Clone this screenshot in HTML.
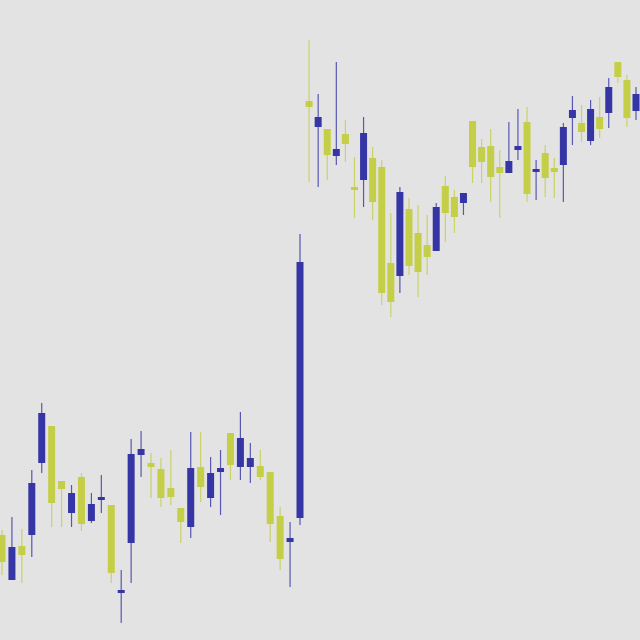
<!DOCTYPE html>
<html><head><meta charset="utf-8"><style>
html,body{margin:0;padding:0;background:#e3e3e3;}
svg{display:block;}
</style></head><body>
<svg id="chart" width="640" height="640" viewBox="0 0 640 640">
<rect x="0" y="0" width="640" height="640" fill="#e3e3e3"/>
<g id="candles"></g>
</svg>
<script>
const opens=[105,60,94,105,177,214,159,127,163,119,141,135,47,97,185,177,171,152,132,113,173,142,168,207,173,173,174,168,124,98,122,539,513,511,484,506,453,460,482,473,377,364,431,407,395,389,454,443,437,519,493,494,473,467,490,518,468,487,472,475,522,517,499,523,527,578,560,529];
const highs=[110,123,111,170,237,214,159,155,167,147,165,135,70,201,209,187,182,190,132,208,208,183,190,207,228,197,190,168,133,118,406,600,546,511,578,520,483,523,493,480,427,453,442,435,425,437,464,450,447,519,501,511,490,518,531,533,480,495,482,517,544,535,540,543,562,578,565,553];
const lows=[65,60,57,83,167,113,113,113,109,117,127,57,17,57,163,142,133,135,97,102,138,133,125,160,160,157,160,98,70,53,115,458,453,460,475,478,422,433,420,335,323,347,365,343,365,389,398,407,425,457,457,438,422,467,480,438,440,443,442,438,495,498,495,502,512,557,513,520];
const closes=[78,93,85,157,227,137,151,147,116,136,143,67,50,186,191,173,142,143,118,172,153,167,172,175,202,182,163,116,81,102,378,533,523,485,491,496,450,507,438,347,338,448,374,368,383,433,427,423,447,473,478,463,467,479,494,446,471,462,468,513,530,508,531,511,553,563,522,546];

const n=opens.length;
function xScale(i){ // polylinear index scale
  const d=[0,30,n-1], r=[2,300,636];
  if(i<=d[1]) return r[0]+(i-d[0])*(r[1]-r[0])/(d[1]-d[0]);
  return r[1]+(i-d[1])*(r[2]-r[1])/(d[2]-d[1]);
}
function yScale(v){return 640-v;}
const g=document.getElementById('candles');
const NS='http://www.w3.org/2000/svg';
const BLUE='#3535a6', YEL='#c4ce46';
for(let i=0;i<n;i++){
  const up=closes[i]>=opens[i];
  const col=up?BLUE:YEL;
  const x=xScale(i);
  const grp=document.createElementNS(NS,'g');
  
  
  const w=document.createElementNS(NS,'line');
  
  
  w.setAttribute('x1',x);w.setAttribute('x2',x);
  w.setAttribute('y1',yScale(highs[i]));w.setAttribute('y2',yScale(lows[i]));
  w.setAttribute('stroke',col);w.setAttribute('stroke-width','1.2');w.setAttribute('opacity','0.8');
  grp.appendChild(w);
  const top=yScale(Math.max(opens[i],closes[i])), bot=yScale(Math.min(opens[i],closes[i]));
  const b=document.createElementNS(NS,'rect');
  
  
  b.setAttribute('x',x-3.5);b.setAttribute('width',7);
  b.setAttribute('y',top);b.setAttribute('height',Math.max(bot-top,3));
  b.setAttribute('fill',col);
  grp.appendChild(b);
  g.appendChild(grp);
}
</script>
</body></html>
